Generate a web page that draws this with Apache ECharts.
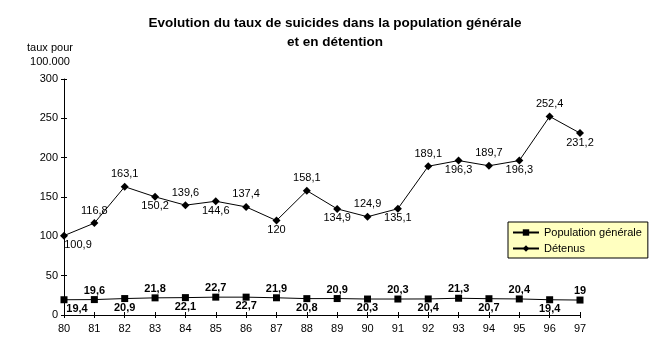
<!DOCTYPE html>
<html><head><meta charset="utf-8">
<script src="https://cdn.jsdelivr.net/npm/echarts@6/dist/echarts.min.js"></script>
<style>html,body{margin:0;padding:0;background:#fff}#c{width:655px;height:357px}</style>
</head><body><div id="c"></div>
<script>
const years = ['80','81','82','83','84','85','86','87','88','89','90','91','92','93','94','95','96','97'];
const population = [19.4,19.6,20.9,21.8,22.1,22.7,22.7,21.9,20.8,20.9,20.3,20.3,20.4,21.3,20.7,20.4,19.4,19];
const detenus = [100.9,116.8,163.1,150.2,139.6,144.6,137.4,120,158.1,134.9,124.9,135.1,189.1,196.3,189.7,196.3,252.4,231.2];
const yTicks = [0,50,100,150,200,250,300];

const detPos = ['bottom','top','top','bottom','top','bottom','top','bottom','top','bottom','top','bottom','top','bottom','top','bottom','top','bottom'];
const FONT = 'Liberation Sans, Arial, sans-serif';
const fmt = v => String(v).replace('.', ',');

const chart = echarts.init(document.getElementById('c'));
const grid = {left:64, right:75, top:79, bottom:42};
chart.setOption({
  animation:false,
  backgroundColor:'#fff',
  title:{text:'Evolution du taux de suicides dans la population générale\net en détention', left:330, top:9, textAlign:'center',
    textStyle:{fontFamily:FONT, fontSize:13.5, fontWeight:'bold', color:'#000', lineHeight:19}},
  grid:grid,
  legend:{orient:'vertical', left:508, top:222, width:130, itemWidth:26, itemHeight:8, itemGap:5,
    padding:[5,6,4,4], backgroundColor:'#ffffc0', borderColor:'#000', borderWidth:1, borderRadius:0,
    textStyle:{fontFamily:FONT, fontSize:11, color:'#000'},
    data:['Population générale','Détenus']},
  xAxis:[{type:'category', data:years, boundaryGap:false,
    axisLine:{lineStyle:{color:'#000', width:1}},
    axisTick:{show:true, inside:false, length:3, lineStyle:{color:'#000'}},
    axisLabel:{color:'#000', fontFamily:FONT, fontSize:11, margin:8},
    splitLine:{show:false}},
   {type:'category', data:years, boundaryGap:false, position:'bottom',
    axisLine:{show:false}, axisTick:{show:true, inside:true, length:3, lineStyle:{color:'#000'}},
    axisLabel:{show:false}, splitLine:{show:false}}],
  yAxis:[{type:'value', min:0, max:300, interval:50,
    name:'taux pour\n100.000', nameLocation:'end', nameGap:10,
    nameTextStyle:{fontFamily:FONT, fontSize:11, color:'#000', align:'center', lineHeight:14, padding:[0,28,0,0]},
    axisLine:{show:true, lineStyle:{color:'#000', width:1}},
    axisTick:{show:true, inside:false, length:3, lineStyle:{color:'#000'}},
    axisLabel:{color:'#000', fontFamily:FONT, fontSize:11, margin:6, formatter:v=>yTicks.includes(v)?String(v):''},
    splitLine:{show:false}},
   {type:'value', min:0, max:300, interval:50, position:'left',
    axisLine:{show:false}, axisTick:{show:true, inside:true, length:3, lineStyle:{color:'#000'}},
    axisLabel:{show:false}, splitLine:{show:false}}],
  series:[
    {name:'Population générale', type:'line', data:population.map((v,i)=>({value:v,
        label:{position: i%2===0?'bottom':'top', distance: 0, offset: i===0?[13,0]:[0,0]}})),
      symbol:'rect', symbolSize:7, lineStyle:{color:'#000', width:1}, itemStyle:{color:'#000'},
      label:{show:true, formatter:p=>fmt(p.value), fontFamily:FONT, fontSize:11, fontWeight:'bold', color:'#000'}},
    {name:'Détenus', type:'line', data:detenus.map((v,i)=>({value:v,
        label:{position: detPos[i], distance: detPos[i]==='top'?3:0, offset: i===0?[14,0]:[0,0]}})),
      symbol:'diamond', symbolSize:8, lineStyle:{color:'#000', width:1}, itemStyle:{color:'#000'},
      label:{show:true, formatter:p=>fmt(p.value), fontFamily:FONT, fontSize:11, color:'#000'}}
  ]
});
</script></body></html>
